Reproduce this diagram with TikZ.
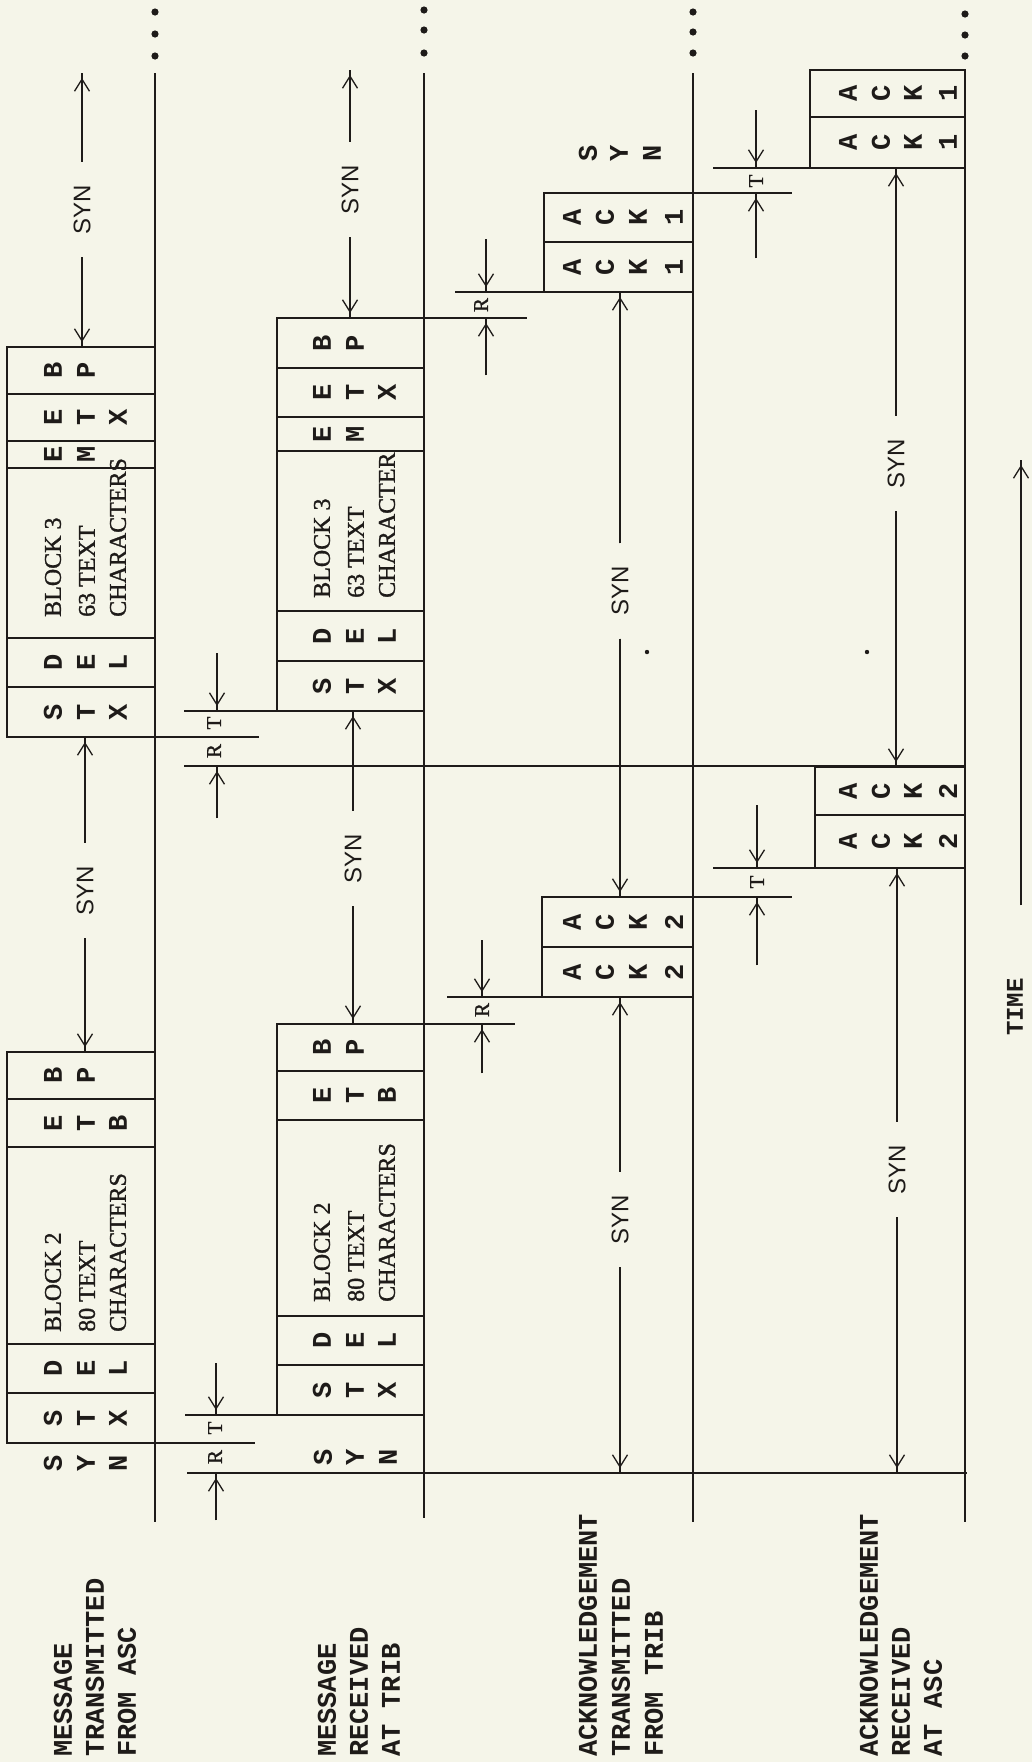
\documentclass[tikz,border=0pt]{standalone}
\usepackage{fontspec}
\setmonofont{Liberation Mono}
\newfontfamily\synfont{Liberation Sans}
\newfontfamily\blkfont[FakeBold=1.2]{Liberation Serif}
\usetikzlibrary{arrows.meta}
\definecolor{ink}{RGB}{30,27,25}
\definecolor{paper}{RGB}{245,245,233}
\newcount\lcnt
\newcommand\ch[3]{\global\advance\lcnt by 1\relax
  \node[lt] (ch\the\lcnt) at ([xshift=#2pt]#1.east) {#3};}
\newcommand\chthree[4]{\ch{#1}{-102}{#2}\ch{#1}{-69}{#3}\ch{#1}{-37}{#4}}
\newcommand\chtwo[3]{\ch{#1}{-102}{#2}\ch{#1}{-69}{#3}}
\newcommand\chfourA[5]{\ch{#1}{-121}{#2}\ch{#1}{-88}{#3}\ch{#1}{-55}{#4}\ch{#1}{-19}{#5}}
\newcommand\chfourB[5]{\ch{#1}{-117}{#2}\ch{#1}{-84}{#3}\ch{#1}{-52}{#4}\ch{#1}{-17}{#5}}
\newcommand\bx[5]{\node[boxn, minimum width={#4-#2}, minimum height={#5-#3}, anchor=north west] (#1) at (#2,#3) {};}
\newcommand\arw[2]{\draw[thinl] (#1) -- (#2); \draw[tipl] (#1) -- (#2);}
\newcommand\blk[5]{%
  \node[btxt] (#1t1) at ([xshift=-102pt,yshift=#2pt]#1.south east) {#3};
  \node[btxt] (#1t2) at ([xshift=-68pt,yshift=#2pt]#1.south east) {#4};
  \node[btxt] (#1t3) at ([xshift=-37pt,yshift=#2pt]#1.south east) {#5};}
\begin{document}
\begin{tikzpicture}[x=1pt,y=-1pt,
  boxn/.style={draw=ink, line width=2.4pt, rectangle, inner sep=0pt, outer sep=0pt},
  base/.style={draw=ink, line width=1.9pt},
  ext/.style={draw=ink, line width=2.4pt},
  thinl/.style={draw=ink, line width=1.3pt},
  tipl/.style={draw=ink, line width=1.3pt, shorten >=5pt, -{Straight Barb[length=12pt,width=15pt]}},
  lt/.style={rotate=90, inner sep=0pt, text=ink, font=\ttfamily\bfseries\fontsize{27}{32}\selectfont},
  lbl/.style={lt, anchor=west},
  btxt/.style={rotate=90, inner sep=0pt, anchor=west, text=ink, font=\blkfont\fontsize{24}{28}\selectfont},
  syn/.style={rotate=90, inner sep=0pt, minimum width=95pt, text=ink, font=\synfont\fontsize{24}{28}\selectfont},
  rt/.style={rotate=90, inner sep=0pt, text=ink, font=\blkfont\fontsize{21}{24}\selectfont}
]
\fill[paper] (0,0) rectangle (1032,1762);
\useasboundingbox (0,0) rectangle (1032,1762);

% baselines
\coordinate (b1t) at (155,73);  \coordinate (b1b) at (155,1522);
\coordinate (b2t) at (424,73);  \coordinate (b2b) at (424,1518);
\coordinate (b3t) at (693,73);  \coordinate (b3b) at (693,1522);
\coordinate (b4t) at (965,70);  \coordinate (b4b) at (965,1522);
\draw[base] (b1t) -- (b1b);
\draw[base] (b2t) -- (b2b);
\draw[base] (b3t) -- (b3b);
\draw[base] (b4t) -- (b4b);
\foreach \x/\a/\b/\c in {155/12/34/56, 424/10/30/53, 693/12/32/53, 965/14/35/56}{
  \fill[ink] (\x,\a) circle[radius=3.6pt];
  \fill[ink] (\x,\b) circle[radius=3.6pt];
  \fill[ink] (\x,\c) circle[radius=3.6pt];}

% long time lines
\coordinate (m1) at (184,766); \coordinate (m2) at (965,766);
\coordinate (z1) at (187,1473); \coordinate (z2) at (967,1473);
\draw[base] (m1) -- (m2);
\draw[base] (z1) -- (z2);

% row 1, block 2
\bx{r1a}{7}{1052}{155}{1099}
\bx{r1b}{7}{1099}{155}{1147}
\bx{r1c}{7}{1147}{155}{1344}
\bx{r1d}{7}{1344}{155}{1393}
\bx{r1e}{7}{1393}{155}{1443}
% row 1, block 3
\bx{r1f}{7}{347}{155}{394}
\bx{r1g}{7}{394}{155}{441}
\bx{r1h}{7}{441}{155}{468}
\bx{r1i}{7}{468}{155}{638}
\bx{r1j}{7}{638}{155}{687}
\bx{r1k}{7}{687}{155}{737}
% row 2, block 2
\bx{r2a}{277}{1024}{424}{1071}
\bx{r2b}{277}{1071}{424}{1120}
\bx{r2c}{277}{1120}{424}{1316}
\bx{r2d}{277}{1316}{424}{1365}
\bx{r2e}{277}{1365}{424}{1415}
% row 2, block 3
\bx{r2f}{277}{318}{424}{368}
\bx{r2g}{277}{368}{424}{417}
\bx{r2h}{277}{417}{424}{451}
\bx{r2i}{277}{451}{424}{611}
\bx{r2j}{277}{611}{424}{661}
\bx{r2k}{277}{661}{424}{711}
% row 3
\bx{r3a}{544}{193}{693}{242}
\bx{r3b}{544}{242}{693}{292}
\bx{r3c}{542}{897}{693}{947}
\bx{r3d}{542}{947}{693}{997}
% row 4
\bx{r4a}{810}{70}{965}{117}
\bx{r4b}{810}{117}{965}{168}
\bx{r4c}{815}{767}{965}{815}
\bx{r4d}{815}{815}{965}{868}

% extension lines
\draw[ext] (r1e.south east) -- (255,1443);
\draw[ext] (r2e.south west) -- (185,1415);
\draw[ext] (r1k.south east) -- (259,737);
\draw[ext] (r2k.south west) -- (184,711);
\draw[ext] (r2a.north east) -- (515,1024);
\draw[ext] (r2f.north east) -- (527,318);
\draw[ext] (r3b.south west) -- (455,292);
\draw[ext] (r3d.south west) -- (447,997);
\draw[ext] (r3a.north east) -- (792,193);
\draw[ext] (r3c.north east) -- (792,897);
\draw[ext] (r4b.south west) -- (713,168);
\draw[ext] (r4d.south west) -- (713,868);

% letters row 1
\chtwo{r1a}{B}{P}
\chthree{r1b}{E}{T}{B}
\blk{r1c}{12}{BLOCK 2}{80 TEXT}{CHARACTERS}
\chthree{r1d}{D}{E}{L}
\chthree{r1e}{S}{T}{X}
\chtwo{r1f}{B}{P}
\chthree{r1g}{E}{T}{X}
\chtwo{r1h}{E}{M}
\blk{r1i}{21}{BLOCK 3}{63 TEXT}{CHARACTERS}
\chthree{r1j}{D}{E}{L}
\chthree{r1k}{S}{T}{X}
\node[lt] (sy1a) at (53,1463) {S};
\node[lt] (sy1b) at (86,1463) {Y};
\node[lt] (sy1c) at (118,1463) {N};
% letters row 2
\chtwo{r2a}{B}{P}
\chthree{r2b}{E}{T}{B}
\blk{r2c}{14}{BLOCK 2}{80 TEXT}{CHARACTERS}
\chthree{r2d}{D}{E}{L}
\chthree{r2e}{S}{T}{X}
\chtwo{r2f}{B}{P}
\chthree{r2g}{E}{T}{X}
\chtwo{r2h}{E}{M}
\blk{r2i}{13}{BLOCK 3}{63 TEXT}{CHARACTER}
\chthree{r2j}{D}{E}{L}
\chthree{r2k}{S}{T}{X}
\node[lt] (sy2a) at (323,1457) {S};
\node[lt] (sy2b) at (355,1457) {Y};
\node[lt] (sy2c) at (388,1457) {N};
% letters row 3
\chfourA{r3a}{A}{C}{K}{1}
\chfourA{r3b}{A}{C}{K}{1}
\chfourA{r3c}{A}{C}{K}{2}
\chfourA{r3d}{A}{C}{K}{2}
\node[lt] (sy3a) at (588,153) {S};
\node[lt] (sy3b) at (619,153) {Y};
\node[lt] (sy3c) at (652,153) {N};
% letters row 4
\chfourB{r4a}{A}{C}{K}{1}
\chfourB{r4b}{A}{C}{K}{1}
\chfourB{r4c}{A}{C}{K}{2}
\chfourB{r4d}{A}{C}{K}{2}

% SYN intervals
\node[syn] (s1a) at (82,209.5) {SYN};
\arw{s1a.east}{s1a.east |- b1t}
\arw{s1a.west}{s1a.west |- r1f.north}
\node[syn] (s1b) at (85,890.5) {SYN};
\arw{s1b.east}{s1b.east |- r1k.south}
\arw{s1b.west}{s1b.west |- r1a.north}
\node[syn] (s2a) at (350,189.5) {SYN};
\arw{s2a.east}{s2a.east |- b4t}
\arw{s2a.west}{s2a.west |- r2f.north}
\node[syn] (s2b) at (353,858.5) {SYN};
\arw{s2b.east}{s2b.east |- r2k.south}
\arw{s2b.west}{s2b.west |- r2a.north}
\node[syn] (s3a) at (620,591) {SYN};
\arw{s3a.east}{s3a.east |- r3b.south}
\arw{s3a.west}{s3a.west |- r3c.north}
\node[syn] (s3b) at (620,1219.5) {SYN};
\arw{s3b.east}{s3b.east |- r3d.south}
\arw{s3b.west}{s3b.west |- z1}
\node[syn] (s4a) at (896,463.5) {SYN};
\arw{s4a.east}{s4a.east |- r4b.south}
\arw{s4a.west}{s4a.west |- r4c.north}
\node[syn] (s4b) at (897,1169.5) {SYN};
\arw{s4b.east}{s4b.east |- r4d.south}
\arw{s4b.west}{s4b.west |- z1}

% R / T dimensions
\node[rt] (T1) at (215,1428) {T};
\node[rt] (R1) at (215,1457) {R};
\coordinate (T1t) at (216,1363); \arw{T1t}{T1t |- r2e.south}
\coordinate (R1t) at (216,1520); \arw{R1t}{R1t |- z1}
\node[rt] (T2) at (214,723) {T};
\node[rt] (R2) at (214,751) {R};
\coordinate (T2t) at (217,653); \arw{T2t}{T2t |- r2k.south}
\coordinate (R2t) at (217,818); \arw{R2t}{R2t |- m1}
\node[rt] (R3) at (482,1010) {R};
\coordinate (R3a) at (482,940);  \arw{R3a}{R3a |- r3d.south}
\coordinate (R3b) at (482,1073); \arw{R3b}{R3b |- r2a.north}
\node[rt] (R4) at (481,305) {R};
\coordinate (R4a) at (486,239); \arw{R4a}{R4a |- r3b.south}
\coordinate (R4b) at (486,375); \arw{R4b}{R4b |- r2f.north}
\node[rt] (T5) at (757,882) {T};
\coordinate (T5a) at (757,805); \arw{T5a}{T5a |- r4d.south}
\coordinate (T5b) at (757,965); \arw{T5b}{T5b |- r3c.north}
\node[rt] (T6) at (756,181) {T};
\coordinate (T6a) at (756,110); \arw{T6a}{T6a |- r4b.south}
\coordinate (T6b) at (756,258); \arw{T6b}{T6b |- r3a.north}

% stray marks
\fill[ink] (647,652) circle[radius=2.2pt];
\fill[ink] (867,652) circle[radius=2.2pt];

% row labels
\node[lbl] (l1a) at (63,1757) {MESSAGE};
\node[lbl] (l1b) at (95,1757) {TRANSMITTED};
\node[lbl] (l1c) at (127,1757) {FROM ASC};
\node[lbl] (l2a) at (327,1757) {MESSAGE};
\node[lbl] (l2b) at (359,1757) {RECEIVED};
\node[lbl] (l2c) at (391,1757) {AT TRIB};
\node[lbl] (l3a) at (588,1757) {ACKNOWLEDGEMENT};
\node[lbl] (l3b) at (621,1757) {TRANSMITTED};
\node[lbl] (l3c) at (654,1757) {FROM TRIB};
\node[lbl] (l4a) at (869,1757) {ACKNOWLEDGEMENT};
\node[lbl] (l4b) at (901,1757) {RECEIVED};
\node[lbl] (l4c) at (933,1757) {AT ASC};

% time arrow
\node[lt, font=\ttfamily\bfseries\fontsize{24}{28}\selectfont] (time) at (1015,1007) {TIME};
\coordinate (tmb) at (1021,905);
\coordinate (tmt) at (1021,460);
\arw{tmb}{tmt}
\end{tikzpicture}
\end{document}
